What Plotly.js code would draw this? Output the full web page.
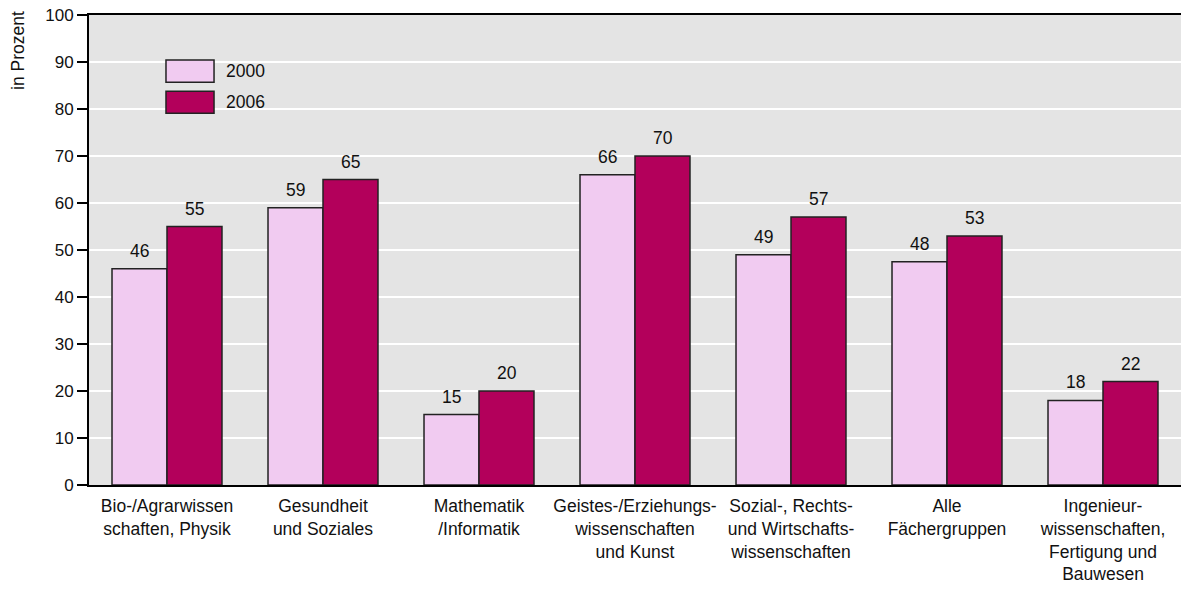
<!DOCTYPE html>
<html>
<head>
<meta charset="utf-8">
<script src="https://cdn.plot.ly/plotly-3.0.1.min.js"></script>
<style>html,body{margin:0;padding:0;background:#fff;}#chart{width:1181px;height:590px;}</style>
</head>
<body>
<div id="chart"></div>
<script>
const categories = [
  "Bio-/Agrarwissen<br>schaften, Physik",
  "Gesundheit<br>und Soziales",
  "Mathematik<br>/Informatik",
  "Geistes-/Erziehungs-<br>wissenschaften<br>und Kunst",
  "Sozial-, Rechts-<br>und Wirtschafts-<br>wissenschaften",
  "Alle<br>Fächergruppen",
  "Ingenieur-<br>wissenschaften,<br>Fertigung und<br>Bauwesen"
];
const seriesNames = ["2000", "2006"];
const values2000 = [46, 59, 15, 66, 49, 47.5, 18];
const values2006 = [55, 65, 20, 70, 57, 53, 22];
const labels2000 = ["46", "59", "15", "66", "49", "48", "18"];
const labels2006 = ["55", "65", "20", "70", "57", "53", "22"];
const yTicks = [0, 10, 20, 30, 40, 50, 60, 70, 80, 90, 100];

const FONT = "'Liberation Sans', Arial, sans-serif";
const TXT = "#111111";
const colors = ["#f1cbf1", "#b3005b"];
const outline = {color: "#222222", width: 1.5};

const traces = [
  {type: "bar", name: seriesNames[0], x: categories, y: values2000,
   marker: {color: colors[0], line: outline}, hoverinfo: "none"},
  {type: "bar", name: seriesNames[1], x: categories, y: values2006,
   marker: {color: colors[1], line: outline}, hoverinfo: "none"}
];

const annotations = [];
const BW = 27.5;
categories.forEach((c, i) => {
  annotations.push({x: c, y: values2000[i], xref: "x", yref: "y", text: labels2000[i],
    showarrow: false, xshift: -BW, yanchor: "bottom", yshift: 6,
    font: {family: FONT, size: 17.5, color: TXT}});
  annotations.push({x: c, y: values2006[i], xref: "x", yref: "y", text: labels2006[i],
    showarrow: false, xshift: BW, yanchor: "bottom", yshift: 6,
    font: {family: FONT, size: 17.5, color: TXT}});
});
annotations.push({xref: "paper", yref: "paper", x: -0.065, y: 1.012, text: "in Prozent",
  textangle: -90, showarrow: false, xanchor: "center", yanchor: "top",
  font: {family: FONT, size: 17.5, color: TXT}});
// legend texts
annotations.push({xref: "paper", yref: "paper", x: 0.1235, y: 0.881, text: seriesNames[0],
  showarrow: false, xanchor: "left", yanchor: "middle", font: {family: FONT, size: 17.5, color: TXT}});
annotations.push({xref: "paper", yref: "paper", x: 0.1235, y: 0.815, text: seriesNames[1],
  showarrow: false, xanchor: "left", yanchor: "middle", font: {family: FONT, size: 17.5, color: TXT}});

const shapes = [
  {type: "rect", xref: "paper", yref: "paper", x0: 0.0623, x1: 0.1685, y0: 0.781, y1: 0.915,
   fillcolor: "#e4e4e4", line: {width: 0}, layer: "between"},
  {type: "rect", xref: "paper", yref: "paper", x0: 0.0705, x1: 0.1145, y0: 0.857, y1: 0.904,
   fillcolor: colors[0], line: {color: "#222", width: 1.5}, layer: "above"},
  {type: "rect", xref: "paper", yref: "paper", x0: 0.0705, x1: 0.1145, y0: 0.791, y1: 0.838,
   fillcolor: colors[1], line: {color: "#222", width: 1.5}, layer: "above"}
];

const layout = {
  width: 1181, height: 590,
  margin: {l: 89, r: 0, t: 15, b: 105, pad: 0},
  paper_bgcolor: "#ffffff",
  plot_bgcolor: "#e4e4e4",
  showlegend: false,
  barmode: "group",
  bargap: 0.295,
  bargroupgap: 0,
  font: {family: FONT, size: 17, color: TXT},
  xaxis: {
    type: "category", showline: true, linecolor: "#000", linewidth: 2, mirror: true,
    ticks: "", showgrid: false, ticklabelstandoff: 4,
    tickfont: {family: FONT, size: 17.5, color: TXT},
    fixedrange: true
  },
  yaxis: {
    range: [0, 100], tickvals: yTicks, ticktext: yTicks.map(String),
    ticks: "outside", ticklen: 10, tickwidth: 1.5, tickcolor: "#000",
    showline: true, linecolor: "#000", linewidth: 2,
    showgrid: true, gridcolor: "#ffffff", gridwidth: 1.5, zeroline: false,
    tickfont: {family: FONT, size: 17, color: TXT}, fixedrange: true
  },
  annotations: annotations,
  shapes: shapes
};

Plotly.newPlot("chart", traces, layout, {displayModeBar: false, staticPlot: true});
</script>
</body>
</html>
